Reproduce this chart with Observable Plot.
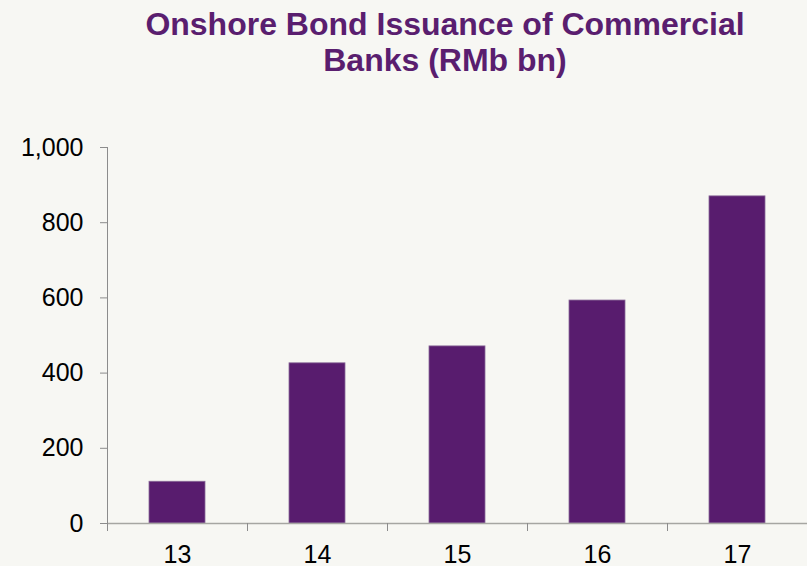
<!DOCTYPE html>
<html>
<head>
<meta charset="utf-8">
<script src="https://cdn.jsdelivr.net/npm/d3@7"></script>
<script src="https://cdn.jsdelivr.net/npm/@observablehq/plot@0.6"></script>
<style>
  html, body { margin: 0; padding: 0; background: #f7f7f3; }
  #wrap { width: 807px; height: 566px; overflow: hidden; position: relative; }
  #title { position: absolute; left: 83px; width: 724px; top: 6px; text-align: center;
    font-family: "Liberation Sans", Arial, sans-serif; font-weight: bold; font-size: 32px;
    line-height: 36px; color: #5a1e6f; white-space: nowrap; }
  #chart { position: absolute; left: 0; top: 100px; }
</style>
</head>
<body>
<div id="wrap">
  <div id="title">Onshore Bond Issuance of Commercial<br>Banks (RMb bn)</div>
  <div id="chart"></div>
</div>
<script>
const years = [13, 14, 15, 16, 17];
const values = [111, 426, 471, 593, 870];
const yTicks = [0, 200, 400, 600, 800, 1000];
const xBoundaries = [12.5, 13.5, 14.5, 15.5, 16.5, 17.5];

const data = years.map((y, i) => ({year: y, value: values[i]}));
const barHalf = 0.2;

const plot = Plot.plot({
  width: 807,
  height: 466,
  marginTop: 47,
  marginBottom: 43,
  marginLeft: 107,
  marginRight: 0,
  style: {background: "transparent", fontFamily: "'Liberation Sans', Arial, sans-serif", fontSize: "25px", color: "#000"},
  x: {domain: [12.5, 17.5], label: null},
  y: {domain: [0, 1000], label: null},
  marks: [
    Plot.rectY(data, {x1: d => d.year - barHalf, x2: d => d.year + barHalf, y: "value",
      fill: "#581c6e", stroke: "#8a6a98", strokeWidth: 0.8}),
    Plot.ruleY([0], {stroke: "#a6a6a2", strokeWidth: 1.5}),
    Plot.ruleX([12.5], {y1: 0, y2: 1000, stroke: "#8c8c8c", strokeWidth: 1}),
    Plot.axisY({ticks: yTicks, tickSize: 7, tickPadding: 17, stroke: "#8c8c8c", label: null,
      tickFormat: d => d3.format(",")(d), fill: "#000", fontSize: 25}),
    Plot.axisX({ticks: xBoundaries, tickSize: 8, tickFormat: () => "", stroke: "#8c8c8c", label: null}),
    Plot.axisX({ticks: years, tickSize: 0, tickPadding: 22, tickFormat: d => String(d), label: null,
      fill: "#000", fontSize: 25})
  ]
});
document.getElementById("chart").appendChild(plot);
</script>
</body>
</html>
